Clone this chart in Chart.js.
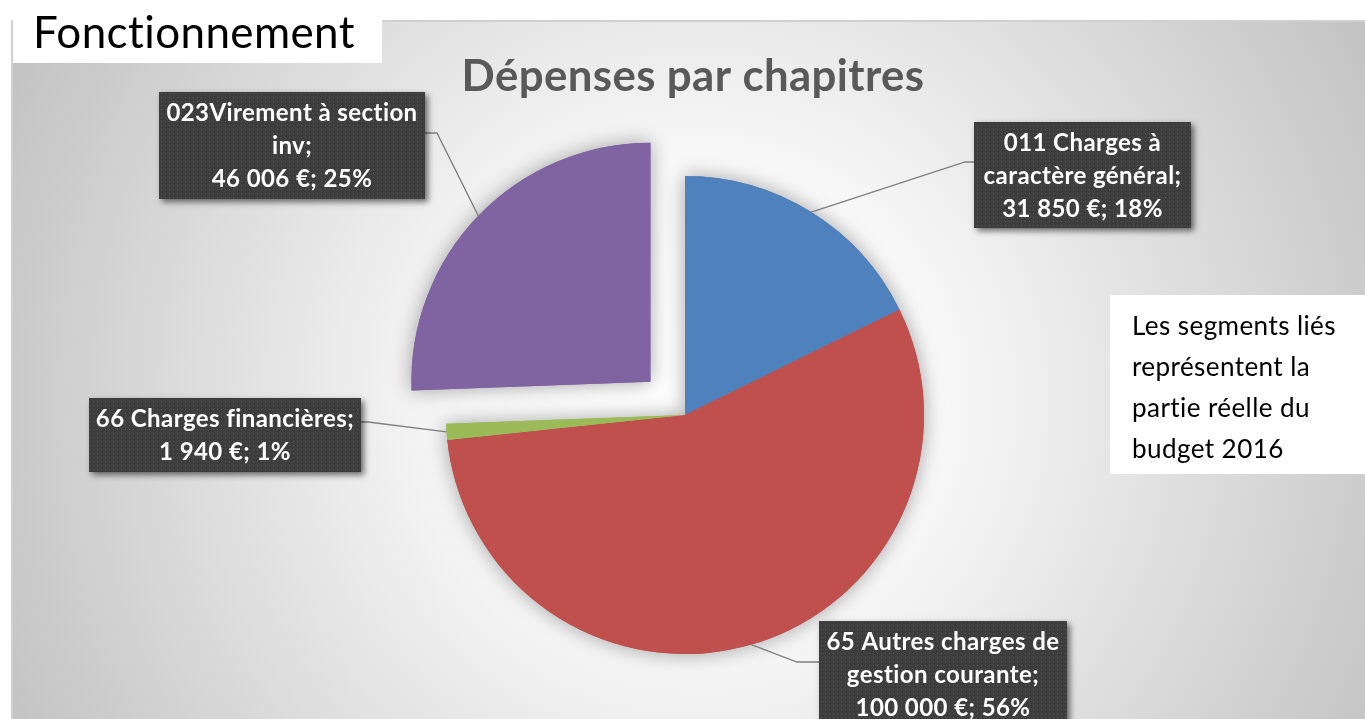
<!DOCTYPE html>
<html lang="fr">
<head>
<meta charset="utf-8">
<title>Dépenses par chapitres</title>
<script src="https://cdn.jsdelivr.net/npm/chart.js@4.4.1/dist/chart.umd.min.js"></script>
<style>
  html, body { margin: 0; padding: 0; background: #fff; }
  #wrap { position: relative; width: 1365px; height: 719px; }
</style>
</head>
<body>
<div id="wrap"><canvas id="chart"></canvas></div>
<script>
"use strict";

// data
const chapitres = [
  "011 Charges à caractère général",
  "65 Autres charges de gestion courante",
  "66 Charges financières",
  "023Virement à section inv",
];
const montants = [31850, 100000, 1940, 46006];
const pourcentages = [18, 56, 1, 25]; // as shown by the original (sum = 100)
const etiquettes = [
  ["011 Charges à", "caractère général;"],
  ["65 Autres charges de", "gestion courante;"],
  ["66 Charges financières;"],
  ["023Virement à section", "inv;"],
];
const note = ["Les segments liés", "représentent la", "partie réelle du", "budget 2016"];
const couleurs = ["#4F81BD", "#C0504D", "#9BBB59", "#8064A2"];
const eclatement = [0, 0, 0, 192]; // chart.js moves an arc by offset / 4

// label boxes + leader elbows (layout only)
const boites = [
  { x: 974, y: 122, w: 217, h: 106, attach: [974, 162], elbow: [965, 162] },
  { x: 819, y: 621, w: 248, h: 110, attach: [819, 662], elbow: [797, 662] },
  { x: 89, y: 398, w: 272, h: 74, attach: [361, 422], elbow: [368, 422] },
  { x: 159, y: 92, w: 266, h: 107, attach: [425, 133], elbow: [437, 133] },
];

const euros = (v) => String(v).replace(/\B(?=(\d{3})+(?!\d))/g, " ") + " €";

// no ligatures (the original font has none)
function noLig(ctx) {
  ctx.textRendering = "optimizeSpeed";
  ctx.letterSpacing = "0.4px";
}

// font size that makes text fill a given width
function fitFont(ctx, text, width, weight, family) {
  noLig(ctx);
  ctx.font = weight + " 100px " + family;
  const w100 = ctx.measureText(text).width;
  ctx.font = weight + " 20px " + family;
  const w20 = ctx.measureText(text).width;
  // width is linear in size plus a constant spacing part
  const perPx = (w100 - w20) / 80;
  return (width - (w20 - perPx * 20)) / perPx;
}

// dotted texture of the label boxes
const motif = document.createElement("canvas");
motif.width = 4;
motif.height = 4;
const mctx = motif.getContext("2d");
mctx.fillStyle = "#3d3d3d";
mctx.fillRect(0, 0, 4, 4);
mctx.fillStyle = "#575757";
mctx.fillRect(1, 1, 1, 1);

const decor = {
  id: "decor",
  beforeDraw(chart) {
    const ctx = chart.ctx;
    ctx.save();
    ctx.fillStyle = "#fff";
    ctx.fillRect(0, 0, chart.width, chart.height);
    // chart area background
    const g = ctx.createRadialGradient(700, 400, 0, 700, 400, 790);
    g.addColorStop(0, "#ffffff");
    g.addColorStop(0.3, "#f8f8f8");
    g.addColorStop(1, "#c0c0c0");
    ctx.fillStyle = g;
    ctx.fillRect(12, 21, 1353, 698);
    ctx.strokeStyle = "#d0d0d0";
    ctx.lineWidth = 2;
    ctx.strokeRect(12, 21, 1362, 710);
    // "Fonctionnement" tab
    ctx.fillStyle = "#fff";
    ctx.fillRect(13, 0, 369, 63);
    ctx.fillStyle = "#000";
    ctx.textAlign = "left";
    ctx.textBaseline = "alphabetic";
    let fs = fitFont(ctx, "Fonctionnement", 322, "normal", "Lato");
    ctx.font = "normal " + fs + "px Lato";
    ctx.fillText("Fonctionnement", 33, 48);
    // title
    fs = fitFont(ctx, "Dépenses par chapitres", 463, "bold", "Lato");
    ctx.font = "bold " + fs + "px Lato";
    ctx.fillStyle = "#595959";
    ctx.textAlign = "center";
    ctx.fillText("Dépenses par chapitres", 693, 91);
    ctx.restore();
  },
  beforeDatasetsDraw(chart) {
    // soft shadow under the pie, drawn first so arcs cover each other cleanly
    const ctx = chart.ctx;
    ctx.save();
    ctx.shadowColor = "rgba(0,0,0,0.35)";
    ctx.shadowBlur = 20;
    chart.getDatasetMeta(0).data.forEach((arc) => arc.draw(ctx));
    ctx.restore();
  },
  afterDatasetsDraw(chart) {
    const ctx = chart.ctx;
    const arcs = chart.getDatasetMeta(0).data;
    ctx.save();
    const fsLab = fitFont(ctx, "caractère général;", 198, "bold", "Lato");
    arcs.forEach((arc, i) => {
      const p = arc.getProps(["x", "y", "startAngle", "endAngle", "outerRadius"], true);
      const mid = (p.startAngle + p.endAngle) / 2;
      const d = p.outerRadius + eclatement[i] / 4;
      const px = p.x + Math.cos(mid) * d;
      const py = p.y + Math.sin(mid) * d;
      const b = boites[i];
      // leader line
      ctx.strokeStyle = "#7f7f7f";
      ctx.lineWidth = 1.3;
      ctx.beginPath();
      ctx.moveTo(px, py);
      ctx.lineTo(b.elbow[0], b.elbow[1]);
      ctx.lineTo(b.attach[0], b.attach[1]);
      ctx.stroke();
      // box
      ctx.save();
      ctx.shadowColor = "rgba(0,0,0,0.55)";
      ctx.shadowBlur = 6;
      ctx.shadowOffsetX = 3;
      ctx.shadowOffsetY = 3;
      ctx.fillStyle = "#3d3d3d";
      ctx.fillRect(b.x, b.y, b.w, b.h);
      ctx.restore();
      ctx.fillStyle = ctx.createPattern(motif, "repeat");
      ctx.fillRect(b.x, b.y, b.w, b.h);
      // text
      const lignes = etiquettes[i].concat([euros(montants[i]) + "; " + pourcentages[i] + "%"]);
      ctx.fillStyle = "#fff";
      ctx.font = "bold " + fsLab + "px Lato";
      ctx.textAlign = "center";
      ctx.textBaseline = "middle";
      lignes.forEach((t, k) => {
        ctx.fillText(t, b.x + b.w / 2, b.y + 21 + k * 33);
      });
    });
    // note box on the right
    ctx.fillStyle = "#fff";
    ctx.fillRect(1110, 295, 255, 179);
    const fsNote = fitFont(ctx, note[0], 204, "normal", "Lato");
    ctx.fillStyle = "#000";
    ctx.font = "normal " + fsNote + "px Lato";
    ctx.textAlign = "left";
    ctx.textBaseline = "middle";
    note.forEach((t, k) => {
      ctx.fillText(t, 1132, 327 + k * 41);
    });
    ctx.restore();
  },
};

const ctx = document.getElementById("chart");
new Chart(ctx, {
  type: "pie",
  data: {
    labels: chapitres,
    datasets: [{
      data: montants,
      backgroundColor: couleurs,
      borderWidth: 0,
      offset: eclatement,
      hoverOffset: 0,
    }],
  },
  options: {
    responsive: true,
    maintainAspectRatio: false,
    animation: false,
    radius: 239,
    layout: { padding: { left: 185, right: 180, top: 115, bottom: 4 } },
    plugins: {
      legend: { display: false },
      tooltip: { enabled: false },
      title: { display: false },
    },
  },
  plugins: [decor],
});
</script>
</body>
</html>
